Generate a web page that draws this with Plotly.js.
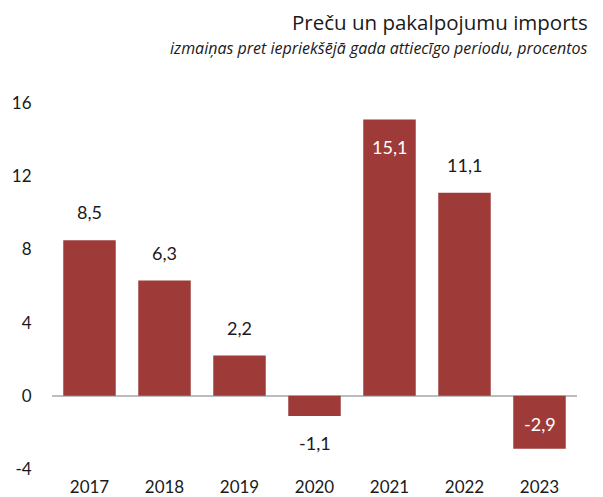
<!DOCTYPE html>
<html>
<head>
<meta charset="utf-8">
<script src="https://cdn.plot.ly/plotly-3.0.1.min.js"></script>
<style>body{margin:0;background:#fff}#chart{width:603px;height:497px}</style>
</head>
<body>
<div id="chart"></div>
<script>
// imports, % change vs same period of previous year
var years = ['2017', '2018', '2019', '2020', '2021', '2022', '2023'];
var values = [8.5, 6.3, 2.2, -1.1, 15.1, 11.1, -2.9];
var inside = [false, false, false, false, true, false, true];
var yTicks = [-4, 0, 4, 8, 12, 16];

var barColor = '#9e3b39';
var fontFam = 'Lato, "Open Sans", sans-serif';
var titleFam = '"Open Sans", Lato, sans-serif';

function fmt(v) { return v.toFixed(1).replace('.', ','); }

var annotations = values.map(function (v, i) {
  var up = v >= 0;
  var a = {
    xref: 'x', yref: 'y', x: i, y: v, text: fmt(v), showarrow: false,
    font: {family: fontFam, size: 18, color: inside[i] ? '#ffffff' : '#1a1a1a'}
  };
  if (inside[i]) {
    a.yanchor = up ? 'top' : 'bottom';
    a.yshift = up ? -15 : 12;
  } else {
    a.yanchor = up ? 'bottom' : 'top';
    a.yshift = up ? 15 : -14;
  }
  return a;
});

annotations.push({
  xref: 'paper', yref: 'paper', x: 1.025, y: 1, yshift: 81, xanchor: 'right', yanchor: 'middle',
  text: 'Preču un pakalpojumu imports', showarrow: false,
  font: {family: titleFam, size: 20.5, color: '#1a1a1a'}
});
annotations.push({
  xref: 'paper', yref: 'paper', x: 1.025, y: 1, yshift: 55, xanchor: 'right', yanchor: 'middle',
  text: '<i>izmaiņas pret iepriekšējā gada attiecīgo periodu, procentos</i>', showarrow: false,
  font: {family: titleFam, size: 16, color: '#1a1a1a'}
});

var trace = {
  x: years, y: values, type: 'bar',
  marker: {color: barColor},
  hoverinfo: 'none'
};

var layout = {
  width: 603, height: 497,
  margin: {l: 52, r: 26, t: 103, b: 28},
  paper_bgcolor: '#fff', plot_bgcolor: '#fff',
  bargap: 0.3,
  showlegend: false,
  font: {family: fontFam, size: 17, color: '#1a1a1a'},
  xaxis: {
    type: 'category', range: [-0.5, years.length - 0.5],
    showgrid: false, showline: false, zeroline: false,
    ticks: 'outside', ticklen: 3, tickcolor: 'rgba(0,0,0,0)',
    tickfont: {size: 17}
  },
  yaxis: {
    range: [-4, 16], tickvals: yTicks,
    ticktext: yTicks.map(function (t) { return String(t); }),
    showgrid: false, showline: false,
    ticks: 'outside', ticklen: 16, tickcolor: 'rgba(0,0,0,0)',
    zeroline: true, zerolinecolor: '#bdbdbd', zerolinewidth: 1.5,
    tickfont: {size: 17}
  },
  annotations: annotations
};

Plotly.newPlot('chart', [trace], layout, {displayModeBar: false, staticPlot: true});
</script>
</body>
</html>
